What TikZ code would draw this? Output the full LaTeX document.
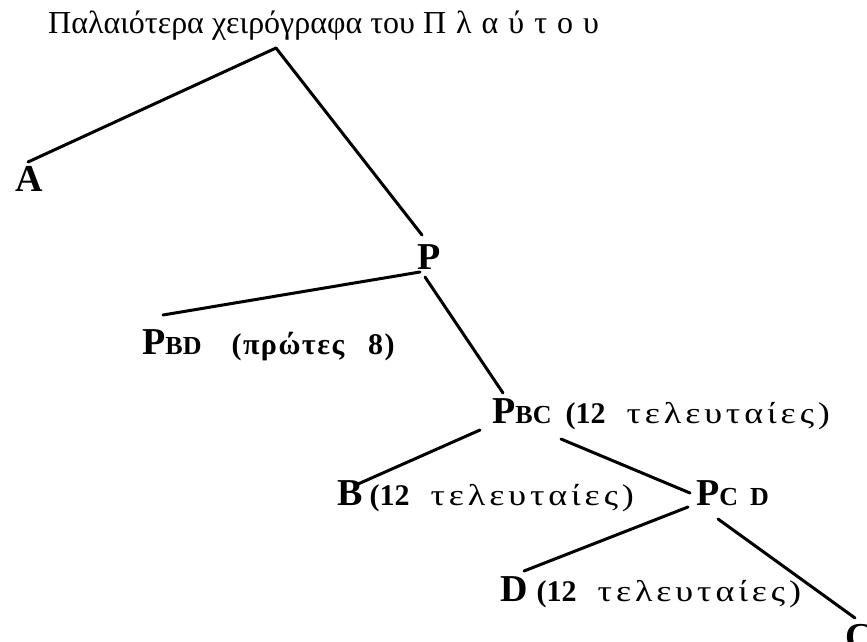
\documentclass[tikz,border=0pt]{standalone}
\usepackage{fontspec}
\setmainfont{Liberation Serif}
\newfontfamily\grsp[FakeStretch=1.2,LetterSpace=13]{Liberation Serif}
\newfontfamily\grbd[LetterSpace=5]{Liberation Serif}
\usetikzlibrary{calc}
\tikzset{
  lbl/.style={inner sep=0pt, anchor=base west, font=\fontsize{38}{40}\selectfont\bfseries},
  ttl/.style={inner sep=0pt, anchor=base west, font=\fontsize{32}{36}\selectfont},
  link/.style={line width=3pt, line cap=round}
}
\newcommand{\smc}[1]{{\fontsize{26}{28}\selectfont #1}}
\newcommand{\lastn}{{\fontsize{30}{32}\selectfont\bfseries(12\hspace{21pt}}{\fontsize{30}{32}\selectfont\mdseries\grsp τελευταίες)}}
\begin{document}
\begin{tikzpicture}[x=1pt,y=-1pt]
\useasboundingbox (0,0) rectangle (867,641);
\node[ttl] (title) at (48,33) {Παλαιότερα χειρόγραφα του Π\hspace{10pt}λ\hspace{10pt}α\hspace{10pt}ύ\hspace{10pt}τ\hspace{10pt}ο\hspace{10pt}υ};
\coordinate (apex) at (276,48);
\node[lbl] (A) at (15,191) {A};
\node[lbl] (P) at (417,269) {P};
\node[lbl] (PBD) at (142,354) {P\smc{BD}\hspace{30pt}{\fontsize{30}{32}\selectfont\grbd(πρώτες\hspace{24pt}8)}};
\node[lbl] (PBC) at (492,423) {P\smc{BC}\hspace{14pt}\lastn};
\node[lbl] (B) at (337,505) {B\hspace{7pt}\lastn};
\node[lbl] (PCD) at (696,505) {P\smc{C\hspace{12pt}D}};
\node[lbl] (D) at (500,601) {D\hspace{9pt}\lastn};
\node[lbl] (C) at (845,649) {C};
\draw[link] (apex) -- ($(A.base west)+(13,-29)$);
\draw[link] (apex) -- ($(P.base west)+(5,-34)$);
\draw[link] ($(P.base west)+(3,3)$) -- ($(PBD.base west)+(21,-39)$);
\draw[link] ($(P.base west)+(8,8)$) -- ($(PBC.base west)+(11,-30)$);
\draw[link] ($(PBC.base west)+(-12,7)$) -- ($(B.base west)+(21,-21)$);
\draw[link] ($(PBC.base west)+(69,16)$) -- ($(PCD.base west)+(-6,-12)$);
\draw[link] ($(PCD.base west)+(-8,2)$) -- ($(D.base west)+(24,-30)$);
\draw[link] ($(PCD.base west)+(22,14)$) -- ($(C.base west)+(10,-31)$);
\end{tikzpicture}
\end{document}
